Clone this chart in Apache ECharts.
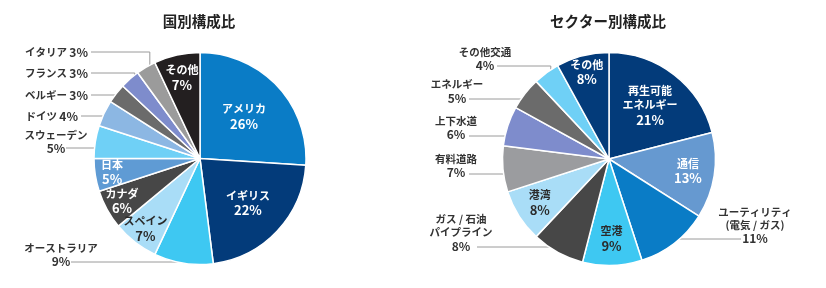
<!DOCTYPE html>
<html><head><meta charset="utf-8">
<script src="https://cdn.jsdelivr.net/npm/echarts@6/dist/echarts.min.js"></script>
<style>html,body{margin:0;padding:0;background:#fff}#c{width:826px;height:288px}</style>
</head><body><div id="c"></div>
<script>
// ---- data ----
const countryTitle = '国別構成比';
const countryNames = ['アメリカ','イギリス','オーストラリア','スペイン','カナダ','日本','スウェーデン','ドイツ','ベルギー','フランス','イタリア','その他'];
const countryValues = [26,22,9,7,6,5,5,4,3,3,3,7];

const sectorTitle = 'セクター別構成比';
const sectorNames = ['再生可能\nエネルギー','通信','ユーティリティ\n(電気 / ガス)','空港','ガス / 石油\nパイプライン','港湾','有料道路','上下水道','エネルギー','その他交通','その他'];
const sectorValues = [21,13,11,9,8,8,7,6,5,4,8];

// ---- styles ----
const countryColors = ['#0a7cc6','#033b7a','#3ec8f2','#a9ddf7','#474747','#5f9bd4','#6fd0f6','#8cb7e3','#6b6b6b','#7e8ccc','#9b9b9b','#231f20'];
const sectorColors = ['#033b7a','#6699d0','#0a7cc6','#3ec8f2','#474747','#a9ddf7','#9b9c9f','#7e8ccc','#6b6b6b','#6fd0f6','#033b7a'];

// label layout specs (positions of text, not marks)
const countryLabelSpec = [
  {t:'in', f:0.57, c:'#fff'},
  {t:'in', f:0.62, c:'#fff'},
  {t:'out', x:61, y:255, align:'center', ax:71, ay:262},
  {t:'in', f:0.84, c:'#2b2b2b'},
  {t:'in', f:0.84, c:'#fff'},
  {t:'in', f:0.84, c:'#fff'},
  {t:'out', x:56, y:142, align:'center', ax:66, ay:148},
  {t:'out', x:78, y:116, align:'right', ax:81, ay:116, one:true},
  {t:'out', x:88, y:95, align:'right', ax:91, ay:95, one:true},
  {t:'out', x:88, y:73, align:'right', ax:91, ay:73, one:true},
  {t:'out', x:88, y:52, align:'right', ax:91, ay:52, one:true},
  {t:'in', f:0.78, c:'#fff'}
];
const sectorLabelSpec = [
  {t:'in', f:0.63, c:'#fff'},
  {t:'in', f:0.75, c:'#fff'},
  {t:'out', x:755, y:225.5, align:'center', ax:741, ay:239},
  {t:'in', f:0.75, c:'#2b2b2b'},
  {t:'out', x:461, y:233, align:'center', ax:477, ay:247},
  {t:'in', f:0.77, c:'#2b2b2b'},
  {t:'out', x:456, y:166, align:'center', ax:469, ay:174},
  {t:'out', x:456, y:128, align:'center', ax:469, ay:136},
  {t:'out', x:457, y:91.5, align:'center', ax:469, ay:99},
  {t:'out', x:485, y:59, align:'center', ax:497, ay:66},
  {t:'in', f:0.84, c:'#fff'}
];

const FONT = '"Noto Sans CJK JP", "Noto Sans", sans-serif';

function midAngles(values) {
  const total = values.reduce((a,b)=>a+b,0);
  let cum = 0;
  return values.map(v => { const m = (cum + v/2)/total*Math.PI*2; cum += v; return m; });
}

function richText(name, value, oneLine) {
  const nm = name.split('\n').map(l => '{n|' + l + '}').join('\n');
  return oneLine ? (nm + '{n| }{p|' + value + '%}') : (nm + '\n{p|' + value + '%}');
}

function buildSeries(names, values, colors, spec, center, r) {
  const mids = midAngles(values);
  const data = names.map((n,i) => {
    const s = spec[i];
    const inside = s.t === 'in';
    const col = inside ? s.c : '#333';
    return {
      name: n, value: values[i],
      itemStyle: {color: colors[i]},
      label: {
        position: inside ? 'inside' : 'outside', color: col, fontWeight: 'bold',
        formatter: p => richText(p.name, p.value, !!s.one),
        rich: inside ? {
          n: {fontSize: 11, lineHeight: 14, color: col, fontWeight: 'bold', fontFamily: FONT},
          p: {fontSize: 13, lineHeight: 16, color: col, fontWeight: 'bold', fontFamily: FONT}
        } : {
          n: {fontSize: 10.5, lineHeight: 13, color: col, fontWeight: 'bold', fontFamily: FONT},
          p: {fontSize: 12, lineHeight: 14, color: col, fontWeight: 'bold', fontFamily: FONT}
        }
      },
      labelLine: {show: !inside, lineStyle: {color: '#9a9a9a', width: 1}}
    };
  });
  return {
    type: 'pie', center: center, radius: r, startAngle: 90, clockwise: true,
    avoidLabelOverlap: false, silent: true,
    itemStyle: {borderColor: '#fff', borderWidth: 1.5},
    label: {fontFamily: FONT},
    emphasis: {disabled: true},
    data: data,
    labelLayout: function(p) {
      const s = spec[p.dataIndex];
      const a = mids[p.dataIndex];
      const dx = Math.sin(a), dy = -Math.cos(a);
      if (s.t === 'in') {
        return {x: center[0] + dx*r*s.f, y: center[1] + dy*r*s.f, align: 'center', verticalAlign: 'middle'};
      }
      const rs = r*0.93;
      const sx = center[0] + dx*rs, sy = center[1] + dy*rs;
      const pts = Math.abs(sy - s.ay) < 6 ? [[sx, s.ay],[s.ax, s.ay]] : [[sx, sy],[sx, s.ay],[s.ax, s.ay]];
      return {x: s.x, y: s.y, align: s.align, verticalAlign: 'middle', labelLinePoints: pts};
    }
  };
}

const chart = echarts.init(document.getElementById('c'), null, {renderer: 'canvas'});
chart.setOption({
  animation: false,
  backgroundColor: '#fff',
  textStyle: {fontFamily: FONT},
  graphic: [
    {type:'text', x:199, y:21, style:{text: countryTitle, align:'center', verticalAlign:'middle', font:'bold 14.5px ' + FONT, fill:'#222'}},
    {type:'text', x:608, y:21, style:{text: sectorTitle, align:'center', verticalAlign:'middle', font:'bold 14.5px ' + FONT, fill:'#222'}}
  ],
  series: [
    buildSeries(countryNames, countryValues, countryColors, countryLabelSpec, [200, 158.5], 106),
    buildSeries(sectorNames, sectorValues, sectorColors, sectorLabelSpec, [609, 159], 106.5)
  ]
});
</script>
</body></html>
